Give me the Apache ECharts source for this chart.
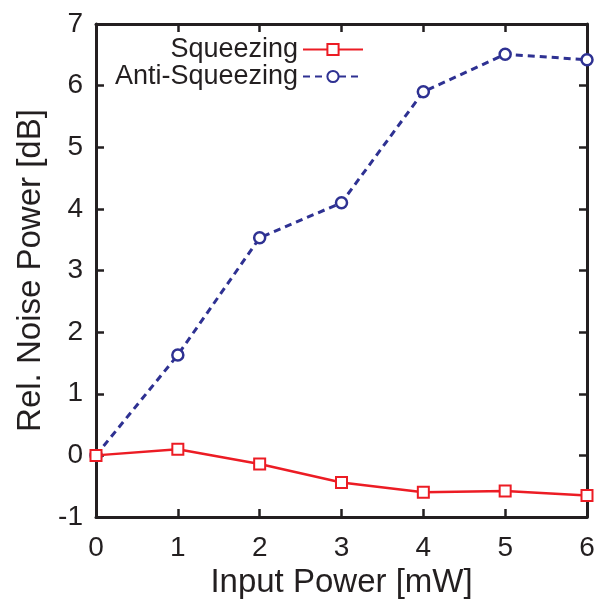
<!DOCTYPE html>
<html>
<head>
<meta charset="utf-8">
<script src="https://cdn.jsdelivr.net/npm/echarts@6/dist/echarts.min.js"></script>
<style>
  html, body { margin: 0; padding: 0; background: #fff; }
  #chart { width: 595px; height: 599px; }
</style>
</head>
<body>
<div id="chart"></div>
<script>
// Input power in mW
const inputPower = [0, 1, 2, 3, 4, 5, 6];
// Relative noise power in dB
const squeezing = [0, 0.10, -0.14, -0.44, -0.60, -0.58, -0.65];
const antiSqueezing = [0, 1.63, 3.53, 4.10, 5.90, 6.51, 6.42];

const xTicks = [0, 1, 2, 3, 4, 5, 6];
const yTicks = [-1, 0, 1, 2, 3, 4, 5, 6, 7];

const ink = '#231f20';
const red = '#ec1c24';
const blue = '#2e3192';
const font = 'Liberation Sans, Arial, Helvetica, sans-serif';

const pairs = (xs, ys) => xs.map((x, i) => [x, ys[i]]);

const axisLine = { show: true, onZero: false, lineStyle: { color: ink, width: 3 } };
const axisTick = { show: true, inside: true, length: 8, lineStyle: { color: ink, width: 2.5 } };

const chart = echarts.init(document.getElementById('chart'), null, { renderer: 'canvas' });
chart.setOption({
  animation: false,
  backgroundColor: '#fff',
  grid: { left: 96, right: 8, top: 24, bottom: 82, containLabel: false, outerBoundsMode: 'none' },
  legend: {
    orient: 'vertical',
    align: 'right',
    right: 226,
    top: 31,
    itemWidth: 60,
    itemHeight: 14,
    itemGap: 0,
    textStyle: { fontFamily: font, fontSize: 27, color: ink, padding: [0, 0, 0, 0] },
    data: ['Squeezing', 'Anti-Squeezing']
  },
  xAxis: [
    {
      type: 'value',
      min: xTicks[0], max: xTicks[xTicks.length - 1], interval: 1,
      name: 'Input Power [mW]',
      nameLocation: 'middle',
      nameGap: 40,
      nameTextStyle: { fontFamily: font, fontSize: 33, color: ink },
      axisLine, axisTick,
      splitLine: { show: false },
      axisLabel: { fontFamily: font, fontSize: 28, color: ink, margin: 17 }
    },
    {
      type: 'value', position: 'top',
      min: xTicks[0], max: xTicks[xTicks.length - 1], interval: 1,
      axisLine, axisTick,
      splitLine: { show: false },
      axisLabel: { show: false }
    }
  ],
  yAxis: [
    {
      type: 'value',
      min: yTicks[0], max: yTicks[yTicks.length - 1], interval: 1,
      name: 'Rel. Noise Power [dB]',
      nameLocation: 'middle',
      nameGap: 48,
      nameTextStyle: { fontFamily: font, fontSize: 33, color: ink },
      axisLine, axisTick,
      splitLine: { show: false },
      axisLabel: { fontFamily: font, fontSize: 28, color: ink, margin: 13 }
    },
    {
      type: 'value', position: 'right',
      min: yTicks[0], max: yTicks[yTicks.length - 1], interval: 1,
      axisLine, axisTick,
      splitLine: { show: false },
      axisLabel: { show: false }
    }
  ],
  series: [
    {
      name: 'Squeezing',
      type: 'line',
      data: pairs(inputPower, squeezing),
      clip: false,
      symbol: 'rect',
      symbolSize: 11,
      lineStyle: { color: red, width: 2.5 },
      itemStyle: { color: '#fff', borderColor: red, borderWidth: 2 },
      z: 3
    },
    {
      name: 'Anti-Squeezing',
      type: 'line',
      data: pairs(inputPower, antiSqueezing),
      clip: false,
      symbol: 'circle',
      symbolSize: 11,
      lineStyle: { color: blue, width: 3, type: [7, 5] },
      itemStyle: { color: '#fff', borderColor: blue, borderWidth: 2.5 },
      z: 2
    }
  ]
});
</script>
</body>
</html>
